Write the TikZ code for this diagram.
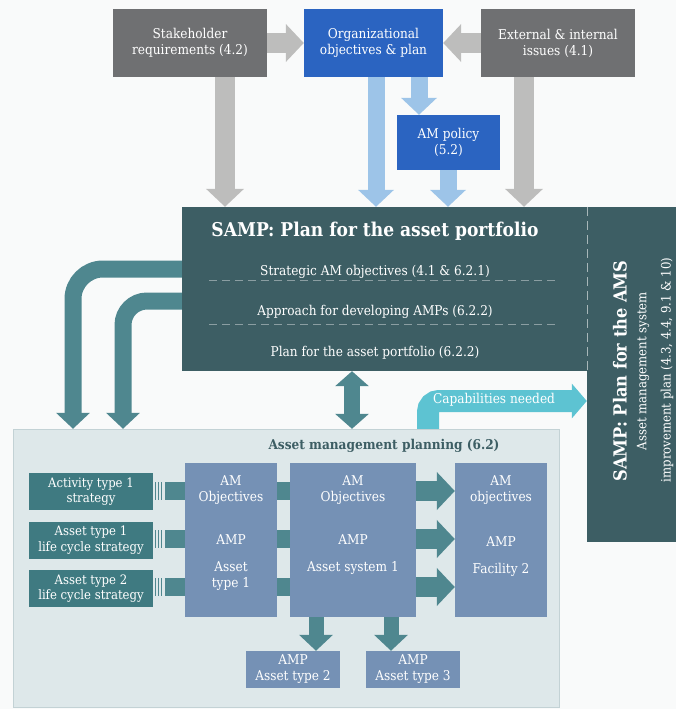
\documentclass[tikz,border=0pt]{standalone}
\usepackage{fontspec}
\setmainfont{DejaVu Serif Condensed}
\usetikzlibrary{arrows.meta,positioning}

\definecolor{boxgray}{HTML}{6F7072}
\definecolor{arrowgray}{HTML}{BDBDBC}
\definecolor{orgblue}{HTML}{2B64C1}
\definecolor{lightblue}{HTML}{9DC4E8}
\definecolor{sampteal}{HTML}{3D5E64}
\definecolor{arrowteal}{HTML}{4F878F}
\definecolor{stratteal}{HTML}{3F7A81}
\definecolor{ampblue}{HTML}{7591B5}
\definecolor{planbg}{HTML}{DEE8EA}
\definecolor{planline}{HTML}{C3D2D5}
\definecolor{capcyan}{HTML}{5DC3D2}
\definecolor{pagebg}{HTML}{F9FAFA}

\begin{document}
\begin{tikzpicture}[x=1pt, y=-1pt,
    box/.style={inner sep=0pt, align=center, text=white, font=\fontsize{13.5}{16}\selectfont},
    graybox/.style={box, fill=boxgray, minimum width=154pt, minimum height=68pt},
    bluebox/.style={box, fill=orgblue},
    stratbox/.style={box, fill=stratteal, minimum width=124pt, minimum height=37pt, font=\fontsize{13}{15.5}\selectfont},
    ampbox/.style={box, fill=ampblue},
    lbl/.style={inner sep=0pt, align=center, text=white, font=\fontsize{13.5}{16}\selectfont},
    grayarrow/.style={draw=arrowgray, line width=20pt, -{Triangle[width=37pt, length=18pt]}},
    bluearrow/.style={draw=lightblue, line width=17pt, -{Triangle[width=35pt, length=17pt]}},
    tealarrow/.style={draw=arrowteal, line width=16pt, -{Triangle[width=33pt, length=16pt]}},
    bigteal/.style={draw=arrowteal, line width=20pt, -{Triangle[width=37pt, length=18pt]}},
  ]

  % Page and frame
  \fill[pagebg] (0,0) rectangle (676,709);
  \useasboundingbox (0,0) rectangle (676,709);

  % Inputs at the top
  \node[graybox] (stake) at (190,43) {Stakeholder\\requirements (4.2)};
  \node[bluebox, minimum width=139pt, minimum height=68pt] (org) at (373.5,43) {Organizational\\objectives \& plan};
  \node[graybox] (ext) at (558,43) {External \& internal\\issues (4.1)};
  \node[bluebox, minimum width=103pt, minimum height=55pt] (policy) at (448.5,142.5) {AM policy\\(5.2)};

  % The two SAMP panels
  \node[fill=sampteal, minimum width=405pt, minimum height=164pt, inner sep=0pt] (samp) at (384.5,289) {};
  \node[fill=sampteal, minimum width=89pt, minimum height=335pt, inner sep=0pt] (ams) at (631.5,374.5) {};
  \draw[draw=white!55!sampteal, dash pattern=on 9pt off 5pt] (samp.north east) -- (samp.south east);

  \node[lbl, font=\bfseries\fontsize{19}{22}\selectfont] (samptitle) at (375,231) {SAMP: Plan for the asset portfolio};
  \node[lbl] (sampa) at (375,272) {Strategic AM objectives (4.1 \& 6.2.1)};
  \node[lbl] (sampb) at (375,312) {Approach for developing AMPs (6.2.2)};
  \node[lbl] (sampc) at (375,353) {Plan for the asset portfolio (6.2.2)};
  \draw[draw=white!40!sampteal, dash pattern=on 8pt off 5pt] (209,280) -- (558,280);
  \draw[draw=white!40!sampteal, dash pattern=on 8pt off 5pt] (209,324) -- (558,324);

  \node[lbl, rotate=90, font=\bfseries\fontsize{18}{21}\selectfont] (amstitle) at (620,371) {SAMP: Plan for the AMS};
  \node[lbl, rotate=90, font=\fontsize{13}{15}\selectfont] (amsa) at (643,371) {Asset management system};
  \node[lbl, rotate=90, font=\fontsize{13}{15}\selectfont] (amsb) at (667,370) {improvement plan (4.3, 4.4, 9.1 \& 10)};

  % Arrows into the SAMP
  \draw[grayarrow] (stake.east) -- (org.west);
  \draw[grayarrow] (ext.west) -- (org.east);
  \draw[grayarrow] (225,0 |- stake.south) -- (225,0 |- samp.north);
  \draw[grayarrow] (524,0 |- ext.south) -- (524,0 |- samp.north);
  \draw[bluearrow] (376,0 |- org.south) -- (376,0 |- samp.north);
  \draw[bluearrow] (419,0 |- org.south) -- (419,0 |- policy.north);
  \draw[bluearrow] (448,0 |- policy.south) -- (448,0 |- samp.north);

  % Asset management planning area
  \node[fill=planbg, draw=planline, minimum width=546pt, minimum height=278pt, inner sep=0pt] (plan) at (286,568) {};
  \node[lbl, text=sampteal, font=\bfseries\fontsize{13.5}{16}\selectfont] (plantitle) at (384,446) {Asset management planning (6.2)};

  \draw[tealarrow, line width=17pt, rounded corners=30pt] (samp.west |- 0,269) -- (73,269) -- (73,0 |- plan.north);
  \draw[tealarrow, line width=17pt, rounded corners=24pt] (samp.west |- 0,301) -- (123,301) -- (123,0 |- plan.north);
  \draw[tealarrow, {Triangle[width=33pt, length=15pt]}-{Triangle[width=33pt, length=15pt]}] (352,0 |- samp.south) -- (352,0 |- plan.north);
  \draw[draw=capcyan, line width=22pt, rounded corners=11pt, -{Triangle[width=34pt, length=15pt]}] (428,0 |- plan.north) -- (428,401) -- (ams.west |- 0,401);
  \node[lbl] (cap) at (494,400) {Capabilities needed};

  % Strategies and plans
  \node[stratbox] (act) at (91,491.5) {Activity type 1\\strategy};
  \node[stratbox] (lc1) at (91,540) {Asset type 1\\life cycle strategy};
  \node[stratbox] (lc2) at (91,588.5) {Asset type 2\\life cycle strategy};

  \node[ampbox, minimum width=92pt, minimum height=154pt] (obj1) at (231,540) {};
  \node[ampbox, minimum width=126pt, minimum height=154pt] (obj2) at (353,540) {};
  \node[ampbox, minimum width=92pt, minimum height=154pt] (obj3) at (501,540) {};
  \node[lbl] (obj1a) at (231,490) {AM\\Objectives};
  \node[lbl] (obj1b) at (231,540) {AMP};
  \node[lbl] (obj1c) at (231,576.5) {Asset\\type 1};
  \node[lbl] (obj2a) at (353,490) {AM\\Objectives};
  \node[lbl] (obj2b) at (353,540) {AMP};
  \node[lbl] (obj2c) at (353,568) {Asset system 1};
  \node[lbl] (obj3a) at (501,490) {AM\\objectives};
  \node[lbl] (obj3b) at (501,542) {AMP};
  \node[lbl] (obj3c) at (501,570) {Facility 2};

  \node[ampbox, minimum width=94pt, minimum height=37pt] (amp2) at (293,669.5) {AMP\\Asset type 2};
  \node[ampbox, minimum width=94pt, minimum height=37pt] (amp3) at (413,669.5) {AMP\\Asset type 3};

  % Links between the plans
  \foreach \yy in {491,539,587} {
    \foreach \xx in {155.5,158.5,161.5}
      \draw[arrowteal, line width=1.3pt] (\xx,\yy-9) -- (\xx,\yy+9);
    \fill[arrowteal] (165,\yy-9) rectangle (obj1.west |- 0,\yy+9);
    \fill[arrowteal] (obj1.east |- 0,\yy-9) rectangle (obj2.west |- 0,\yy+9);
    \draw[bigteal] (obj2.east |- 0,\yy) -- (obj3.west |- 0,\yy);
  }
  \draw[tealarrow, line width=15pt] (316,0 |- obj2.south) -- (316,0 |- amp2.north);
  \draw[tealarrow, line width=15pt] (391,0 |- obj2.south) -- (391,0 |- amp3.north);
\end{tikzpicture}
\end{document}
